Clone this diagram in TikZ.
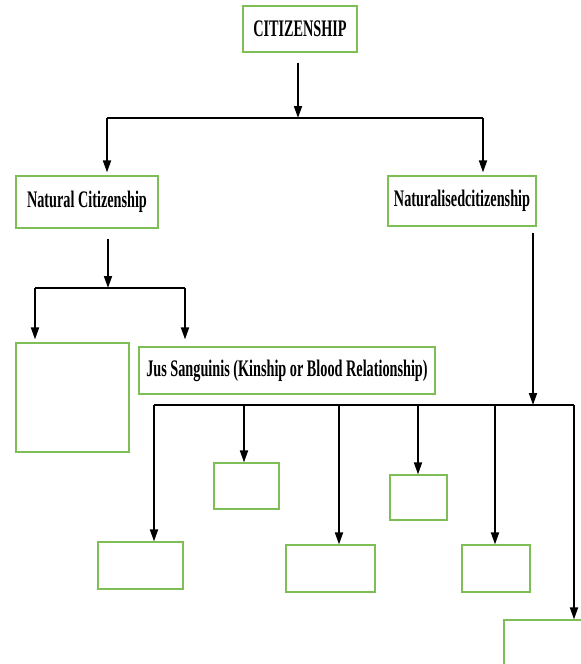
\documentclass[tikz,border=0pt]{standalone}
\usepackage{fontspec}
\setmainfont{Liberation Serif}[FakeStretch=0.6]
\usetikzlibrary{arrows.meta}

\definecolor{boxgreen}{RGB}{125,190,85}

\tikzset{
  chartbox/.style={draw=boxgreen, line width=0.9pt, inner sep=0pt, align=center,
    font=\bfseries\fontsize{17.8}{19}\selectfont},
  busline/.style={line width=2.1pt},
  droparrow/.style={line width=1.3pt, -{Triangle[length=9pt,width=6pt]}},
}

\begin{document}
\begin{tikzpicture}[x=0.75pt,y=0.75pt,yscale=-1,xscale=1]
\useasboundingbox (0,0) rectangle (581,664);

%Shape: Rectangle [top]
\node[chartbox, minimum width=85.5pt, minimum height=34.5pt] (cit) at (300,29) {CITIZENSHIP};
%Shape: Rectangle [second row]
\node[chartbox, minimum width=106.5pt, minimum height=39pt] (nat) at (87,202) {Natural Citizenship};
\node[chartbox, minimum width=111pt, minimum height=37.5pt] (natd) at (462,201) {Naturalisedcitizenship};
%Shape: Rectangle [third row]
\node[chartbox, minimum width=84.75pt, minimum height=81.75pt] (blank) at (72.5,397.5) {};
\node[chartbox, minimum width=222pt, minimum height=35.25pt] (jus) at (287,370.5) {Jus Sanguinis (Kinship or Blood Relationship)};
%Shape: Rectangle [bottom rows]
\node[chartbox, minimum width=63.75pt, minimum height=35.25pt] (way1) at (140.5,565.5) {};
\node[chartbox, minimum width=48.75pt, minimum height=34.5pt] (way2) at (246.5,486) {};
\node[chartbox, minimum width=66.75pt, minimum height=35.25pt] (way3) at (330.5,568.5) {};
\node[chartbox, minimum width=42.75pt, minimum height=33.75pt] (way4) at (418.5,497.5) {};
\node[chartbox, minimum width=51pt, minimum height=35.25pt] (way5) at (496,568.5) {};
\node[chartbox, minimum width=79.5pt, minimum height=52.5pt] (way6) at (557,655) {};

% bus points
\coordinate (topin) at (298,118);
\coordinate (topL) at (107,118);
\coordinate (topR) at (483,118);
\coordinate (midin) at (108,288);
\coordinate (midL) at (35,288);
\coordinate (midR) at (185,288);
\coordinate (lowin) at (533,405);
\coordinate (lowL) at (154,405);
\coordinate (lowR) at (574,405);
\coordinate (d2) at (244,405);
\coordinate (d3) at (339,405);
\coordinate (d4) at (418,405);
\coordinate (d5) at (495,405);

%Straight Lines [top bus]
\draw[droparrow, shorten <=7.5pt] (cit.south -| topin) -- (topin);
\draw[busline] (topL) -- (topR);
\draw[droparrow, shorten >=2.25pt] (topL) -- (topL |- nat.north);
\draw[droparrow, shorten >=2.25pt] (topR) -- (topR |- natd.north);

%Straight Lines [natural bus]
\draw[droparrow, shorten <=7.5pt] (nat.south -| midin) -- (midin);
\draw[busline] (midL) -- (midR);
\draw[droparrow, shorten >=2.25pt] (midL) -- (midL |- blank.north);
\draw[droparrow, shorten >=5.25pt] (midR) -- (midR |- jus.north);

%Straight Lines [naturalised bus]
\draw[droparrow, shorten <=4.5pt] (natd.south -| lowin) -- (lowin);
\draw[busline] (lowL) -- (lowR);
\draw[droparrow] (lowL) -- (lowL |- way1.north);
\draw[droparrow] (d2) -- (d2 |- way2.north);
\draw[droparrow] (d3) -- (d3 |- way3.north);
\draw[droparrow] (d4) -- (d4 |- way4.north);
\draw[droparrow] (d5) -- (d5 |- way5.north);
\draw[droparrow] (lowR) -- (lowR |- way6.north);

\end{tikzpicture}
\end{document}
